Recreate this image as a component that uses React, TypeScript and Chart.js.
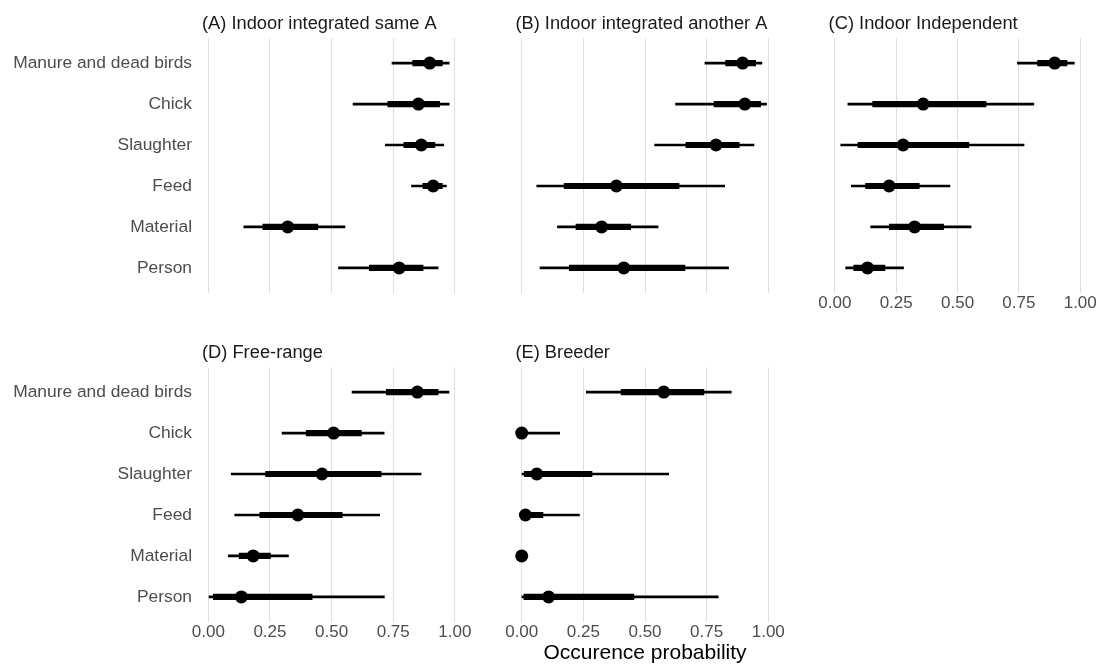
import React, { useEffect, useRef } from 'react';
import { Chart, registerables } from 'chart.js';

Chart.register(...registerables);

const FONT = "'Liberation Sans', Arial, Helvetica, sans-serif";
Chart.defaults.font.family = FONT;

// ---------- data ----------
const categories = ['Manure and dead birds', 'Chick', 'Slaughter', 'Feed', 'Material', 'Person'];
const xTickValues = [0, 0.25, 0.5, 0.75, 1];
const xAxisTitle = 'Occurence probability';

const titleA = '(A) Indoor integrated same A';
const medianA = [0.898, 0.852, 0.864, 0.912, 0.322, 0.774];
const innerA = [[0.829, 0.949], [0.728, 0.938], [0.793, 0.919], [0.87, 0.949], [0.221, 0.444], [0.653, 0.871]];
const outerA = [[0.745, 0.977], [0.587, 0.977], [0.718, 0.955], [0.824, 0.966], [0.144, 0.554], [0.528, 0.932]];

const titleB = '(B) Indoor integrated another A';
const medianB = [0.896, 0.905, 0.788, 0.384, 0.324, 0.414];
const innerB = [[0.827, 0.949], [0.78, 0.969], [0.666, 0.882], [0.172, 0.638], [0.22, 0.442], [0.193, 0.662]];
const outerB = [[0.743, 0.974], [0.624, 0.993], [0.539, 0.942], [0.061, 0.823], [0.145, 0.553], [0.074, 0.839]];

const titleC = '(C) Indoor Independent';
const medianC = [0.896, 0.36, 0.278, 0.221, 0.325, 0.133];
const innerC = [[0.826, 0.946], [0.154, 0.616], [0.094, 0.546], [0.125, 0.344], [0.222, 0.443], [0.077, 0.204]];
const outerC = [[0.744, 0.976], [0.053, 0.811], [0.024, 0.771], [0.067, 0.469], [0.146, 0.555], [0.044, 0.28]];

const titleD = '(D) Free-range';
const medianD = [0.848, 0.508, 0.461, 0.363, 0.182, 0.134];
const innerD = [[0.722, 0.932], [0.397, 0.621], [0.232, 0.701], [0.209, 0.543], [0.125, 0.252], [0.02, 0.421]];
const outerD = [[0.583, 0.976], [0.299, 0.713], [0.093, 0.863], [0.107, 0.695], [0.081, 0.325], [0.003, 0.714]];

const titleE = '(E) Breeder';
const medianE = [0.576, 0.0, 0.061, 0.015, 0.0, 0.109];
const innerE = [[0.403, 0.739], [0, 0.01], [0.01, 0.285], [0.007, 0.086], [0, 0], [0.009, 0.455]];
const outerE = [[0.262, 0.85], [0, 0.154], [0.001, 0.596], [0, 0.234], [0, 0], [0.001, 0.797]];

// ---------- layout ----------
const W = 1099;
const H = 664;
const cols = [
  { left: 196.0, right: 467.2 },
  { left: 509.4, right: 780.6 },
  { left: 822.6, right: 1093.8 },
];
const rows = [
  { top: 38.5, bottom: 292.5 },
  { top: 367.5, bottom: 621.5 },
];

type PanelDef = {
  title: string;
  median: number[];
  inner: number[][];
  outer: number[][];
  col: number;
  row: number;
  showY: boolean;
  showX: boolean;
  showXTitle: boolean;
};

const panels: PanelDef[] = [
  { title: titleA, median: medianA, inner: innerA, outer: outerA, col: 0, row: 0, showY: true, showX: false, showXTitle: false },
  { title: titleB, median: medianB, inner: innerB, outer: outerB, col: 1, row: 0, showY: false, showX: false, showXTitle: false },
  { title: titleC, median: medianC, inner: innerC, outer: outerC, col: 2, row: 0, showY: false, showX: true, showXTitle: false },
  { title: titleD, median: medianD, inner: innerD, outer: outerD, col: 0, row: 1, showY: true, showX: true, showXTitle: false },
  { title: titleE, median: medianE, inner: innerE, outer: outerE, col: 1, row: 1, showY: false, showX: true, showXTitle: true },
];

const panelTitlePlugin = {
  id: 'panelTitle',
  afterDraw(chart: any, _args: any, opts: any) {
    const { ctx, chartArea } = chart;
    ctx.save();
    ctx.font = `18.3px ${FONT}`;
    ctx.fillStyle = '#1A1A1A';
    ctx.textBaseline = 'middle';
    ctx.textAlign = 'left';
    ctx.fillText(opts.text, chartArea.left + 6, chartArea.top - 14.5);
    ctx.restore();
  },
};

function Panel({ def }: { def: PanelDef }) {
  const ref = useRef<HTMLCanvasElement>(null);
  useEffect(() => {
    if (!ref.current) return;
    const area = { ...cols[def.col], ...rows[def.row] };
    const axisH = def.showX ? (def.row === 1 ? H - area.bottom : 30) : 0;
    const chart = new Chart(ref.current, {
      type: 'bar',
      data: {
        datasets: [
          {
            type: 'scatter',
            data: def.median.map((m, i) => ({ x: m, y: i })),
            pointRadius: 6.5,
            pointHoverRadius: 6.5,
            pointBackgroundColor: '#000000',
            pointBorderColor: '#000000',
            pointBorderWidth: 0,
            order: 0,
          } as any,
          {
            type: 'bar',
            data: def.inner.map((r, i) => ({ x: r, y: i })),
            backgroundColor: '#000000',
            borderWidth: 0,
            barThickness: 5.5,
            maxBarThickness: 5.5,
            grouped: false,
            order: 1,
          } as any,
          {
            type: 'bar',
            data: def.outer.map((r, i) => ({ x: r, y: i })),
            backgroundColor: '#000000',
            borderWidth: 0,
            barThickness: 2,
            maxBarThickness: 2,
            grouped: false,
            order: 2,
          } as any,
        ],
      },
      options: {
        indexAxis: 'y',
        responsive: false,
        animation: false,
        events: [],
        layout: {
          padding: {
            left: def.showY ? 0 : area.left,
            top: area.top,
            right: W - area.right,
            bottom: H - area.bottom - axisH,
          },
        },
        plugins: {
          legend: { display: false },
          tooltip: { enabled: false },
          title: { display: false },
          panelTitle: { text: def.title },
        } as any,
        scales: {
          x: {
            type: 'linear',
            position: 'bottom',
            min: -0.05,
            max: 1.05,
            offset: false,
            grid: { display: true, color: '#DEDEDE', lineWidth: 1, drawTicks: false, offset: false },
            border: { display: false },
            ticks: {
              display: def.showX,
              padding: 1,
              color: '#4D4D4D',
              font: { size: 17 },
              autoSkip: false,
              maxRotation: 0,
              callback: (v: any) => Number(v).toFixed(2),
            },
            title: {
              display: def.showXTitle,
              text: xAxisTitle,
              color: '#000000',
              font: { size: 21, lineHeight: 1 },
              padding: 0,
            },
            afterBuildTicks: (s: any) => {
              s.ticks = xTickValues.map((v) => ({ value: v }));
            },
            afterFit: (s: any) => {
              s.height = axisH;
              s.paddingLeft = 0;
              s.paddingRight = 0;
            },
          },
          y: {
            type: 'linear',
            min: -0.6,
            max: 5.6,
            reverse: true,
            offset: false,
            grid: { display: false, drawTicks: false, offset: false },
            border: { display: false },
            ticks: {
              display: def.showY,
              padding: 4,
              color: '#4D4D4D',
              font: { size: 17.4 },
              autoSkip: false,
              callback: (v: any) => categories[v] ?? '',
            },
            afterBuildTicks: (s: any) => {
              s.ticks = categories.map((_, i) => ({ value: i }));
            },
            afterFit: (s: any) => {
              s.width = def.showY ? area.left : 0;
              s.paddingTop = 0;
              s.paddingBottom = 0;
            },
          },
        },
      } as any,
      plugins: [panelTitlePlugin],
    });
    return () => chart.destroy();
  }, [def]);
  return (
    <canvas
      ref={ref}
      width={W}
      height={H}
      style={{ position: 'absolute', left: 0, top: 0, width: W, height: H }}
    />
  );
}

export default function App() {
  return (
    <div style={{ position: 'absolute', left: 0, top: 0, width: W, height: H, background: '#FFFFFF', overflow: 'hidden' }}>
      {panels.map((p) => (
        <Panel key={p.title} def={p} />
      ))}
    </div>
  );
}
